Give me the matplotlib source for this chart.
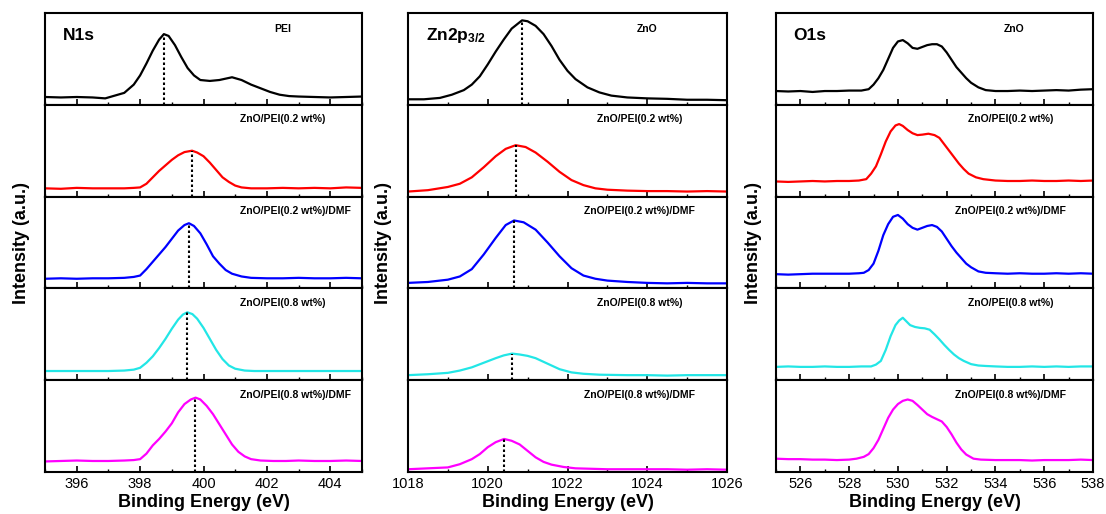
import numpy as np
import matplotlib
matplotlib.use("Agg")
import matplotlib.pyplot as plt
from matplotlib.ticker import MultipleLocator

plt.rcParams["font.family"] = ["Liberation Sans", "DejaVu Sans"]
plt.rcParams["mathtext.fontset"] = "custom"
plt.rcParams["mathtext.bf"] = "Liberation Sans:bold"
plt.rcParams["mathtext.rm"] = "Liberation Sans"

colors = ["black", "#ff0000", "#0000ff", "#22e6e6", "#ff00ff"]
samples_n1s = ["PEI", "ZnO/PEI(0.2 wt%)", "ZnO/PEI(0.2 wt%)/DMF",
               "ZnO/PEI(0.8 wt%)", "ZnO/PEI(0.8 wt%)/DMF"]
samples_zno = ["ZnO", "ZnO/PEI(0.2 wt%)", "ZnO/PEI(0.2 wt%)/DMF",
               "ZnO/PEI(0.8 wt%)", "ZnO/PEI(0.8 wt%)/DMF"]

# ---- N1s ----
n1s_pei_x = [395.0, 395.5, 396.0, 396.5, 396.9, 397.2, 397.5, 397.8, 398.0, 398.2, 398.4, 398.6, 398.75,
             398.9, 399.1, 399.3, 399.5, 399.7, 399.9, 400.2, 400.5, 400.9, 401.2, 401.5, 401.8, 402.1,
             402.4, 402.7, 403.0, 403.5, 404.0, 404.5, 405.0]
n1s_pei_y = [8.5, 8, 8.5, 8, 7, 10, 13, 22, 32, 45, 59, 71, 77, 75, 65, 52, 40, 32, 27, 26, 27, 30, 27,
             22, 18, 14, 11, 9.5, 9, 8.5, 8, 8.5, 9]
n1s_02_x = [395.0, 395.5, 396.0, 396.5, 397.0, 397.5, 397.8, 398.0, 398.2, 398.4, 398.6, 398.8, 399.0,
            399.2, 399.4, 399.64, 399.8, 400.0, 400.2, 400.4, 400.6, 400.8, 401.0, 401.2, 401.5, 402.0,
            402.5, 403.0, 403.5, 404.0, 404.5, 405.0]
n1s_02_y = [9, 8.5, 9.5, 9, 9, 9, 9.5, 10, 14, 21, 28, 34, 40, 45, 48.5, 50, 48, 44, 37, 29, 21, 16, 12,
            10, 9, 9, 9.5, 9, 9.5, 9, 10, 9.5]
n1s_02d_x = [395.0, 395.5, 396.0, 396.5, 397.0, 397.5, 397.8, 398.0, 398.2, 398.4, 398.6, 398.8, 399.0,
             399.2, 399.4, 399.54, 399.7, 399.9, 400.1, 400.3, 400.5, 400.7, 400.9, 401.2, 401.5, 402.0,
             402.5, 403.0, 403.5, 404.0, 404.5, 405.0]
n1s_02d_y = [10.5, 11, 10.5, 11, 11, 11.5, 12.5, 14, 21, 29, 37, 45, 54, 63, 69, 71, 68, 60, 48, 35, 27,
             20, 16, 13, 11.5, 11, 11, 11.5, 11, 11, 11.5, 11]
n1s_08_x = [395.0, 396.0, 397.0, 397.5, 397.8, 398.0, 398.2, 398.4, 398.6, 398.8, 399.0, 399.2, 399.35,
            399.49, 399.65, 399.8, 400.0, 400.2, 400.4, 400.6, 400.8, 401.0, 401.3, 401.6, 402.0, 403.0,
            404.0, 405.0]
n1s_08_y = [10, 10, 10, 10.5, 11.5, 13.5, 19, 26, 35, 45, 56, 66, 71.5, 74, 72, 67, 57, 45, 33, 23, 16,
            12.5, 10.5, 10, 10, 10, 10, 10]
n1s_08d_x = [395.0, 395.5, 396.0, 396.5, 397.0, 397.5, 397.8, 398.0, 398.2, 398.4, 398.6, 398.8, 399.0,
             399.2, 399.4, 399.6, 399.75, 399.9, 400.1, 400.3, 400.5, 400.7, 400.9, 401.1, 401.3, 401.5,
             401.8, 402.2, 402.6, 403.0, 403.5, 404.0, 404.5, 405.0]
n1s_08d_y = [11.5, 12, 12.5, 12, 12, 12.5, 13, 14, 20, 29, 36, 44, 53, 65, 74, 79, 81, 79, 72, 63, 52,
             41, 30, 22, 17, 14, 12.5, 12, 12, 12.5, 12, 12, 12.5, 12]
n1s_peaks = [398.75, 399.64, 399.54, 399.49, 399.73]

# ---- Zn2p3/2 ----
zn_zno_x = [1018.0, 1018.4, 1018.8, 1019.1, 1019.4, 1019.6, 1019.8, 1020.0, 1020.2, 1020.4, 1020.6,
            1020.86, 1021.0, 1021.2, 1021.4, 1021.6, 1021.8, 1022.0, 1022.2, 1022.5, 1022.8, 1023.1,
            1023.5, 1024.0, 1024.5, 1025.0, 1025.5, 1026.0]
zn_zno_y = [6, 6, 7.5, 11, 16, 22, 31, 44, 58, 71, 83, 92, 91, 86, 77, 64, 49, 37, 28, 19, 13.5, 10, 8,
            7, 6.5, 5.5, 5.5, 5]
zn_02_x = [1018.0, 1018.5, 1019.0, 1019.3, 1019.6, 1019.9, 1020.2, 1020.45, 1020.7, 1020.95, 1021.2,
           1021.5, 1021.8, 1022.1, 1022.4, 1022.7, 1023.0, 1023.5, 1024.0, 1024.5, 1025.0, 1025.5, 1026.0]
zn_02_y = [5.5, 7, 10.5, 14, 21, 32, 44, 52, 56, 54, 48, 38, 27, 18, 12.5, 9, 7.5, 6.5, 6, 6, 5.5, 6, 5.5]
zn_02d_x = [1018.0, 1018.5, 1019.0, 1019.3, 1019.6, 1019.9, 1020.2, 1020.45, 1020.66, 1020.9, 1021.2,
            1021.5, 1021.8, 1022.1, 1022.4, 1022.7, 1023.0, 1023.5, 1024.0, 1024.5, 1025.0, 1025.5, 1026.0]
zn_02d_y = [6, 7, 9.5, 13, 21, 37, 55, 69, 74, 72, 64, 50, 35, 22, 14, 10.5, 8.5, 7, 6, 5.5, 6, 5.5, 5.5]
zn_08_x = [1018.0, 1018.5, 1019.0, 1019.3, 1019.6, 1019.9, 1020.2, 1020.4, 1020.61, 1020.8, 1021.0,
           1021.2, 1021.5, 1021.8, 1022.1, 1022.4, 1022.8, 1023.5, 1024.0, 1024.5, 1025.0, 1025.5, 1026.0]
zn_08_y = [5.5, 6.5, 8, 10.5, 14, 19, 24, 27, 29, 28, 26.5, 24, 18, 12, 8.5, 7, 6, 5.5, 5.5, 5, 5.5, 5.5, 5.5]
zn_08d_x = [1018.0, 1018.5, 1019.0, 1019.3, 1019.6, 1019.8, 1020.0, 1020.2, 1020.41, 1020.6, 1020.8,
            1021.0, 1021.2, 1021.4, 1021.6, 1021.9, 1022.2, 1022.6, 1023.0, 1023.5, 1024.0, 1024.5,
            1025.0, 1025.5, 1026.0]
zn_08d_y = [3, 4, 5, 8.5, 14, 19.5, 27, 32.5, 36, 34, 30, 23, 16, 11, 8, 5.5, 4, 3.5, 3, 3, 3, 3, 2.5, 3, 2.5]
zn_peaks = [1020.86, 1020.7, 1020.66, 1020.61, 1020.41]

# ---- O1s ----
o_zno_x = [525.0, 525.5, 526.0, 526.5, 527.0, 527.5, 528.0, 528.5, 528.8, 529.0, 529.2, 529.4, 529.6,
           529.8, 530.0, 530.2, 530.4, 530.6, 530.8, 531.0, 531.2, 531.4, 531.6, 531.8, 532.0, 532.2,
           532.4, 532.6, 532.8, 533.0, 533.3, 533.6, 534.0, 534.5, 535.0, 535.5, 536.0, 536.5, 537.0,
           537.5, 538.0]
o_zno_y = [15, 14.5, 15, 14, 15, 15, 15.5, 15.5, 17, 22, 29, 38, 50, 62, 69, 70.5, 67, 62, 61, 63, 65,
           66, 66, 63.5, 57, 49, 41, 35, 29, 24, 19, 16, 15, 15, 15.5, 15, 15.5, 16, 15.5, 16.5, 17]
o_02_x = [525.0, 525.5, 526.0, 526.5, 527.0, 527.5, 528.0, 528.4, 528.7, 528.9, 529.1, 529.3, 529.5,
          529.7, 529.9, 530.05, 530.2, 530.4, 530.6, 530.8, 531.0, 531.25, 531.5, 531.7, 531.9, 532.1,
          532.3, 532.5, 532.7, 532.9, 533.2, 533.5, 534.0, 534.5, 535.0, 535.5, 536.0, 536.5, 537.0,
          537.5, 538.0]
o_02_y = [16.5, 16, 16.5, 17, 16.5, 17, 17, 17.5, 19, 25, 33, 46, 60, 71, 77.5, 79, 77, 72.5, 69, 67,
          67.5, 68.5, 67, 64, 57, 50, 43, 36, 30, 25, 21, 19, 17.5, 17, 17, 17.5, 17, 17, 17.5, 17, 17.5]
o_02d_x = [525.0, 525.5, 526.0, 526.5, 527.0, 527.5, 528.0, 528.4, 528.6, 528.8, 529.0, 529.2, 529.4,
           529.6, 529.8, 530.0, 530.2, 530.4, 530.6, 530.8, 531.0, 531.2, 531.4, 531.6, 531.8, 532.0,
           532.2, 532.4, 532.6, 532.8, 533.0, 533.3, 533.6, 534.0, 534.5, 535.0, 535.5, 536.0, 536.5,
           537.0, 537.5, 538.0]
o_02d_y = [15.5, 15, 15.5, 16, 16, 16, 16, 16.5, 17, 20, 27, 41, 58, 70, 78, 80, 76, 70, 66, 64, 66, 68,
           69, 67, 62, 54, 46, 39, 33, 27, 23, 18.5, 17, 16.5, 16, 16.5, 16, 16, 16.5, 16, 16.5, 16]
o_08_x = [525.0, 525.5, 526.0, 526.5, 527.0, 527.5, 528.0, 528.5, 528.9, 529.1, 529.3, 529.5, 529.7,
          529.9, 530.05, 530.2, 530.35, 530.5, 530.7, 530.9, 531.1, 531.3, 531.5, 531.7, 531.9, 532.1,
          532.3, 532.5, 532.7, 533.0, 533.3, 533.6, 534.0, 534.5, 535.0, 535.5, 536.0, 536.5, 537.0,
          537.5, 538.0]
o_08_y = [14.5, 15, 14.5, 14.5, 15, 14.5, 14.5, 15, 15, 17, 21, 33, 48, 60, 65, 68, 64, 60, 58, 57,
          56.5, 55, 50, 44.5, 38.5, 33, 28, 24, 21, 17.5, 16, 15.5, 15, 14.5, 14.5, 15, 14.5, 15, 14.5,
          15, 15]
o_08d_x = [525.0, 525.5, 526.0, 526.5, 527.0, 527.5, 528.0, 528.3, 528.6, 528.8, 529.0, 529.2, 529.4,
           529.6, 529.8, 530.0, 530.2, 530.4, 530.6, 530.8, 531.0, 531.2, 531.4, 531.6, 531.8, 532.0,
           532.2, 532.4, 532.6, 532.8, 533.1, 533.4, 534.0, 534.5, 535.0, 535.5, 536.0, 536.5, 537.0,
           537.5, 538.0]
o_08d_y = [14.5, 14, 14, 13.5, 13.5, 13, 13.5, 14.5, 16.5, 19.5, 26, 35, 47, 59, 68, 74, 77.5, 79, 77.5,
           73, 68, 63, 60, 57.5, 55, 49, 41, 32, 24.5, 19, 14.5, 13.5, 13, 13, 13, 12.5, 13, 13, 13, 13.5, 13]

panels = [
    dict(title="N1s", xlim=(395, 405), ticks=(396, 404),
         xs=[n1s_pei_x, n1s_02_x, n1s_02d_x, n1s_08_x, n1s_08d_x],
         ys=[n1s_pei_y, n1s_02_y, n1s_02d_y, n1s_08_y, n1s_08d_y],
         peaks=n1s_peaks, labels=samples_n1s),
    dict(title=r"$\mathbf{Zn2p_{3/2}}$", xlim=(1018, 1026), ticks=(1018, 1026),
         xs=[zn_zno_x, zn_02_x, zn_02d_x, zn_08_x, zn_08d_x],
         ys=[zn_zno_y, zn_02_y, zn_02d_y, zn_08_y, zn_08d_y],
         peaks=zn_peaks, labels=samples_zno),
    dict(title="O1s", xlim=(525, 538), ticks=(526, 538),
         xs=[o_zno_x, o_02_x, o_02d_x, o_08_x, o_08d_x],
         ys=[o_zno_y, o_02_y, o_02d_y, o_08_y, o_08d_y],
         peaks=None, labels=samples_zno),
]

W, H = 1106, 514
fig = plt.figure(figsize=(W / 100, H / 100), dpi=100)

col_left = [45, 408, 776]
col_width = [317, 319, 317]
ylabel_x = [22, 384, 753]
# sample label anchor per panel: (x fraction, alignment)
label_pos = [(0.615, "left"), (0.725, "center"), (0.74, "center")]
top_px, bottom_px = 13, 472

for p, panel in enumerate(panels):
    gs = fig.add_gridspec(5, 1, left=col_left[p] / W, right=(col_left[p] + col_width[p]) / W,
                          top=1 - top_px / H, bottom=1 - bottom_px / H, hspace=0)
    for r in range(5):
        ax = fig.add_subplot(gs[r])
        x = panel["xs"][r]
        y = panel["ys"][r]
        ax.plot(x, y, color=colors[r], lw=1.6)
        if panel["peaks"] is not None:
            px = panel["peaks"][r]
            ax.vlines(px, 0, np.interp(px, x, y), colors="black", linestyles=(0, (1.2, 1.2)), lw=1.5)
        ax.set_xlim(*panel["xlim"])
        ax.set_ylim(0, 100)
        ax.set_yticks([])
        ax.xaxis.set_major_locator(MultipleLocator(2))
        ax.xaxis.set_minor_locator(MultipleLocator(1))
        ax.tick_params(axis="x", which="major", direction="in", length=4, width=1.2, labelsize=10.5)
        ax.tick_params(axis="x", which="minor", direction="in", length=2.5, width=1.0)
        for s in ax.spines.values():
            s.set_linewidth(1.5)
        if r < 4:
            ax.tick_params(axis="x", labelbottom=False)
        else:
            ax.set_xlabel("Binding Energy (eV)", fontsize=13, fontweight="bold", labelpad=2)
        if r == 0:
            ax.text(0.75, 0.83, panel["labels"][0], transform=ax.transAxes, fontsize=7.5,
                    fontweight="bold", ha="center", va="center")
            ax.text(0.055, 0.75, panel["title"], transform=ax.transAxes, fontsize=12.5,
                    fontweight="bold", ha="left", va="center")
        else:
            lx, ha = label_pos[p]
            ax.text(lx, 0.84, panel["labels"][r], transform=ax.transAxes, fontsize=7.5,
                    fontweight="bold", ha=ha, va="center")
    fig.text(ylabel_x[p] / W, 1 - 243 / H, "Intensity (a.u.)", rotation=90, fontsize=13,
             fontweight="bold", ha="center", va="center")

fig.savefig("out.png", dpi=100)
